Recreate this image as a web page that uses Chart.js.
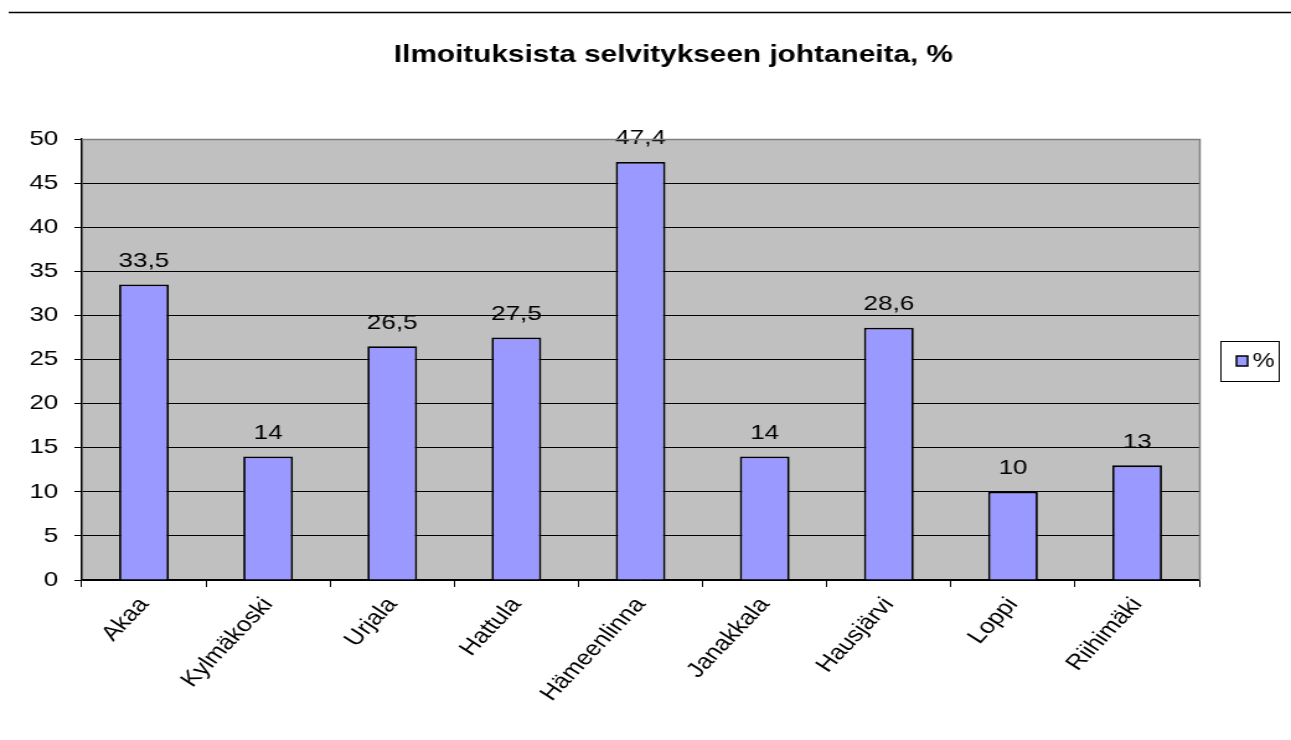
<!DOCTYPE html>
<html>
<head>
<meta charset="utf-8">
<script src="https://cdn.jsdelivr.net/npm/chart.js@4/dist/chart.umd.min.js"></script>
<style>
  html, body { margin: 0; padding: 0; background: #fff; }
  #kaavio { display: block; }
</style>
</head>
<body>
<!-- piirretään kapeampana ja venytetään leveyteen, kuten alkuperäisessä kuvassa -->
<canvas id="kaavio" width="1041" height="740" style="width:1291px;height:740px"></canvas>
<script>
// Aineisto
const kunnat = ['Akaa', 'Kylmäkoski', 'Urjala', 'Hattula', 'Hämeenlinna', 'Janakkala', 'Hausjärvi', 'Loppi', 'Riihimäki'];
const osuudet = [33.5, 14, 26.5, 27.5, 47.4, 14, 28.6, 10, 13];
const sarjanNimi = '%';
const otsikko = 'Ilmoituksista selvitykseen johtaneita, %';

const fontti = '"Liberation Sans", Arial, sans-serif';

// Harmaa piirtoalue ja kehys
const taustaPlugin = {
  id: 'tausta',
  beforeDraw(chart) {
    const { ctx, chartArea: a } = chart;
    ctx.save();
    ctx.fillStyle = '#c0c0c0';
    ctx.fillRect(a.left, a.top, a.right - a.left, a.bottom - a.top);
    ctx.restore();
  },
  afterDraw(chart) {
    const { ctx, chartArea: a } = chart;
    ctx.save();
    // oikea reuna harmaa
    ctx.strokeStyle = '#808080';
    ctx.lineWidth = 1.5;
    ctx.beginPath();
    ctx.moveTo(a.left, a.top + 0.5);
    ctx.lineTo(a.right + 0.5, a.top + 0.5);
    ctx.lineTo(a.right + 0.5, a.bottom);
    ctx.stroke();

    // viiva yläreunassa
    ctx.strokeStyle = '#000';
    ctx.lineWidth = 1.5;
    ctx.beginPath();
    ctx.moveTo(7, 12.5);
    ctx.lineTo(chart.width, 12.5);
    ctx.stroke();

    // otsikko
    ctx.fillStyle = '#000';
    ctx.font = 'bold 24px ' + fontti;
    ctx.textAlign = 'center';
    ctx.textBaseline = 'alphabetic';
    ctx.fillText(otsikko, 543, 62);

    // selite
    ctx.lineWidth = 1;
    ctx.strokeStyle = '#000';
    ctx.fillStyle = '#fff';
    ctx.fillRect(984.5, 341.5, 47, 40);
    ctx.strokeRect(984.5, 341.5, 47, 40);
    ctx.fillStyle = '#9999ff';
    ctx.fillRect(997, 356, 9, 10);
    ctx.lineWidth = 1.5;
    ctx.strokeRect(997, 356, 9, 10);
    ctx.fillStyle = '#000';
    ctx.font = '20px ' + fontti;
    ctx.textAlign = 'left';
    ctx.textBaseline = 'middle';
    ctx.fillText(sarjanNimi, 1010, 361);
    ctx.restore();
  }
};

// Arvot pylväiden päälle
const arvoPlugin = {
  id: 'arvot',
  afterDatasetsDraw(chart) {
    const { ctx } = chart;
    const meta = chart.getDatasetMeta(0);
    ctx.save();
    ctx.fillStyle = '#000';
    ctx.font = '21px ' + fontti;
    ctx.textAlign = 'center';
    ctx.textBaseline = 'alphabetic';
    meta.data.forEach((bar, i) => {
      const teksti = String(osuudet[i]).replace('.', ',');
      ctx.fillText(teksti, bar.x, bar.y - 17.5);
    });
    ctx.restore();
  }
};

const kaavio = new Chart(document.getElementById('kaavio'), {
  type: 'bar',
  data: {
    labels: kunnat,
    datasets: [{
      label: sarjanNimi,
      data: osuudet,
      backgroundColor: '#9999ff',
      borderColor: '#000',
      borderWidth: 1.8,
      barPercentage: 0.4,
      categoryPercentage: 1
    }]
  },
  options: {
    responsive: false,
    animation: false,
    layout: { padding: { top: 139, left: 0, right: 74, bottom: 0 } },
    plugins: {
      legend: { display: false },
      title: { display: false },
      tooltip: { enabled: false }
    },
    scales: {
      x: {
        afterFit: (s) => { s.height = 160; },
        grid: {
          offset: true,
          drawOnChartArea: false,
          color: '#000',
          tickLength: 7
        },
        border: { color: '#000', width: 1.5 },
        ticks: {
          color: '#000',
          font: { family: fontti, size: 21 },
          minRotation: 52,
          maxRotation: 52,
          autoSkip: false,
          padding: 6
        }
      },
      y: {
        min: 0,
        max: 50,
        afterFit: (s) => { s.width = 66; },
        grid: {
          color: (c) => c.tick && c.tick.value === 50 ? '#808080' : '#000',
          tickColor: '#000',
          tickLength: 6
        },
        border: { color: '#000', width: 1.5 },
        ticks: {
          stepSize: 5,
          color: '#000',
          font: { family: fontti, size: 21 },
          padding: 13
        }
      }
    }
  },
  plugins: [taustaPlugin, arvoPlugin]
});
</script>
</body>
</html>
